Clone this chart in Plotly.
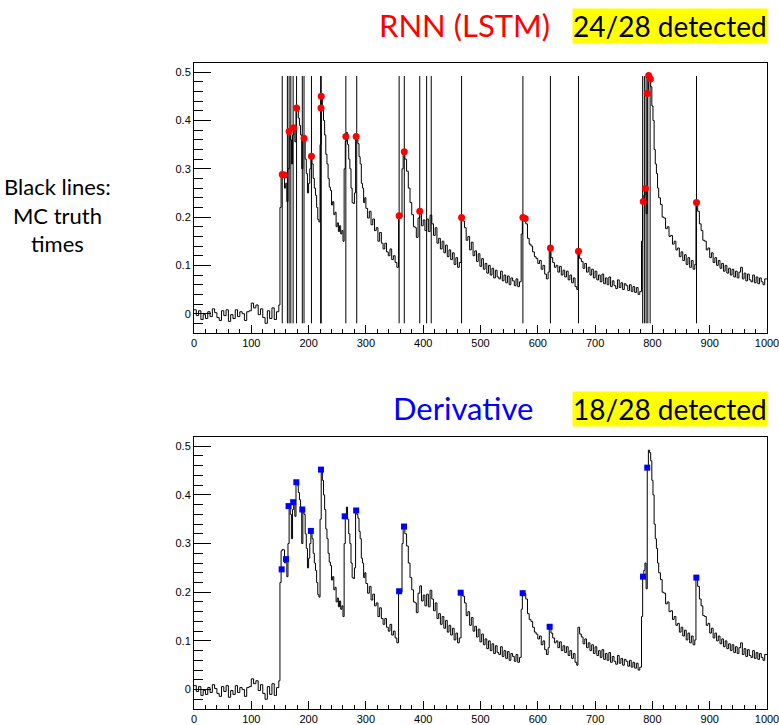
import plotly.graph_objects as go
from plotly.subplots import make_subplots

# ---------------- data ----------------
# waveform: time (start of each step) and amplitude
t = ([0, 4, 8, 12, 16, 20, 24, 28, 32, 36, 40, 44, 48, 52, 56, 60, 64, 68, 72, 76,
      80, 84, 88, 92, 96, 100, 104, 108, 112, 116, 120, 124, 128, 132, 136, 140, 144, 148]
     + list(range(150, 300, 2))
     + [300, 303, 306, 309, 312, 315, 318, 321, 324, 327, 330, 333, 336, 339, 342, 345, 348, 351, 354]
     + [357, 360, 363, 365, 368, 371, 374, 377]
     + [380, 383, 386, 388, 391, 394, 397, 400, 403, 406, 409, 412, 415, 418, 421, 424,
        427, 430, 433, 436, 439, 442, 445, 448, 451, 454, 457, 460, 463]
     + [466, 469, 472, 475, 478, 481, 484, 487, 490, 493, 496, 499, 502, 505, 508, 511,
        514, 517, 520, 523, 526, 529, 532, 535, 538, 541, 544, 547, 550, 553, 556, 559,
        562, 565, 568]
     + [571, 573, 576, 579, 582, 585, 588, 591, 594, 597, 600, 603, 606, 609, 612, 615, 618]
     + [620, 623, 626, 629, 632, 635, 638, 641, 644, 647, 650, 653, 656, 659, 662, 665, 668]
     + [670, 673, 676, 679, 682, 685, 688, 691, 694, 697, 700, 703, 706, 709, 712, 715,
        718, 721, 724, 727, 730, 733, 736, 739, 742, 745, 748, 751, 754, 757, 760, 763,
        766, 769, 772, 775, 778]
     + [781, 783, 785, 787, 789, 791, 793, 795, 797, 799, 801, 803, 805, 807, 809, 811]
     + [814, 817, 820, 823, 826, 829, 832, 835, 838, 841, 844, 847, 850, 853, 856, 859,
        862, 865, 868, 871, 874]
     + [876, 879, 882, 885, 888, 891, 894, 897, 900, 903, 906, 909, 912, 915, 918, 921,
        924, 927, 930, 933, 936, 939, 942, 945, 948, 951, 954, 957, 960, 963, 966, 969,
        972, 975, 978, 981, 984, 987, 990, 993, 996])

amp = ([0.008, -0.004, 0.006, -0.012, -0.002, -0.010, 0.004, -0.006, 0.010, 0.002,
        -0.008, -0.014, 0.006, -0.004, 0.008, -0.016, -0.002, -0.010, 0.008, -0.006,
        0.004, 0.000, -0.014, 0.004, 0.006, 0.022, 0.012, 0.018, -0.002, 0.010,
        -0.008, -0.020, 0.006, -0.010, 0.012, -0.012, 0.004, 0.018]
       + [0.220, 0.285, 0.288, 0.287, 0.260, 0.270, 0.232, 0.300, 0.377, 0.360,
          0.310, 0.370, 0.385, 0.356, 0.426, 0.420, 0.405, 0.390, 0.370, 0.300,
          0.365, 0.360, 0.320, 0.290, 0.250, 0.270, 0.300, 0.326, 0.310, 0.280,
          0.260, 0.245, 0.220, 0.195, 0.190, 0.350, 0.452, 0.430, 0.400, 0.370,
          0.330, 0.310, 0.280, 0.262, 0.255, 0.225, 0.232, 0.205, 0.210, 0.180,
          0.188, 0.170, 0.182, 0.165, 0.172, 0.150, 0.300, 0.357, 0.375, 0.350,
          0.320, 0.300, 0.260, 0.230, 0.228, 0.250, 0.368, 0.360, 0.352, 0.325,
          0.310, 0.270, 0.260, 0.230, 0.240]
       + [0.218, 0.198, 0.212, 0.184, 0.196, 0.172, 0.178, 0.150, 0.168, 0.146,
          0.134, 0.146, 0.128, 0.120, 0.134, 0.112, 0.120, 0.106, 0.096]
       + [0.202, 0.200, 0.300, 0.335, 0.320, 0.295, 0.260, 0.230]
       + [0.205, 0.180, 0.178, 0.158, 0.198, 0.213, 0.182, 0.194, 0.172, 0.196,
          0.170, 0.204, 0.186, 0.162, 0.178, 0.146, 0.156, 0.134, 0.150, 0.126,
          0.142, 0.118, 0.132, 0.112, 0.126, 0.102, 0.116, 0.096, 0.106]
       + [0.199, 0.192, 0.178, 0.152, 0.160, 0.132, 0.148, 0.120, 0.130, 0.108,
          0.124, 0.098, 0.114, 0.092, 0.104, 0.084, 0.100, 0.080, 0.094, 0.074,
          0.090, 0.076, 0.072, 0.088, 0.068, 0.080, 0.064, 0.078, 0.060, 0.074,
          0.068, 0.058, 0.072, 0.056, 0.066]
       + [0.165, 0.198, 0.197, 0.186, 0.156, 0.144, 0.140, 0.128, 0.118, 0.114,
          0.104, 0.110, 0.092, 0.100, 0.082, 0.072, 0.086]
       + [0.130, 0.116, 0.106, 0.096, 0.100, 0.086, 0.098, 0.080, 0.090, 0.076,
          0.088, 0.070, 0.080, 0.064, 0.074, 0.056, 0.050]
       + [0.128, 0.114, 0.108, 0.094, 0.104, 0.086, 0.096, 0.080, 0.092, 0.074,
          0.088, 0.070, 0.080, 0.066, 0.082, 0.062, 0.074, 0.060, 0.076, 0.056,
          0.068, 0.058, 0.052, 0.070, 0.054, 0.064, 0.050, 0.062, 0.058, 0.048,
          0.060, 0.046, 0.056, 0.044, 0.054, 0.040, 0.046]
       + [0.150, 0.233, 0.245, 0.260, 0.207, 0.456, 0.492, 0.487, 0.470, 0.430,
          0.400, 0.340, 0.310, 0.290, 0.260, 0.240]
       + [0.226, 0.200, 0.198, 0.176, 0.180, 0.160, 0.162, 0.144, 0.150, 0.132,
          0.136, 0.118, 0.128, 0.110, 0.122, 0.102, 0.116, 0.096, 0.110, 0.092, 0.102]
       + [0.230, 0.212, 0.186, 0.172, 0.152, 0.150, 0.132, 0.136, 0.116, 0.126,
          0.106, 0.116, 0.100, 0.110, 0.094, 0.104, 0.088, 0.100, 0.084, 0.094,
          0.080, 0.092, 0.076, 0.088, 0.074, 0.086, 0.096, 0.072, 0.084, 0.068,
          0.082, 0.070, 0.066, 0.080, 0.064, 0.076, 0.062, 0.074, 0.066, 0.060, 0.072])

# MC truth times (black lines)
truth_times = [154, 163, 166, 169, 173, 179, 189, 192, 205, 221, 222, 265, 284,
               358, 367, 394, 406, 414, 467, 574, 622, 671, 783, 786, 789, 792,
               796, 877]

# RNN (LSTM) detections
rnn_t = [154, 158, 166, 174, 179, 192, 205, 221.6, 222, 265, 283, 358, 367, 394,
         467, 574, 578, 622, 671, 784, 788, 791, 793.5, 796.5, 877]
rnn_a = [0.288, 0.287, 0.377, 0.385, 0.426, 0.363, 0.326, 0.426, 0.450, 0.367,
         0.367, 0.203, 0.335, 0.212, 0.199, 0.199, 0.197, 0.136, 0.129, 0.232,
         0.259, 0.456, 0.493, 0.486, 0.230]

# Derivative detections
der_t = [153, 160.6, 165, 173, 178.6, 189, 204, 221.6, 263, 283, 358, 366.5,
         465.4, 573.6, 620.7, 783.6, 791, 876.7]
der_a = [0.247, 0.268, 0.377, 0.385, 0.426, 0.370, 0.326, 0.452, 0.356, 0.368,
         0.202, 0.335, 0.199, 0.198, 0.129, 0.232, 0.456, 0.230]

x_ticks = [0, 100, 200, 300, 400, 500, 600, 700, 800, 900, 1000]
y_ticks = [0, 0.1, 0.2, 0.3, 0.4, 0.5]
y_tick_text = ["0", "0.1", "0.2", "0.3", "0.4", "0.5"]

# ---------------- figure ----------------
W, H = 779, 725
fig = make_subplots(rows=2, cols=1)

n = min(len(t), len(amp))
t_step = t[:n] + [1000]
a_step = amp[:n] + [amp[n - 1]]
lo, hi = min(amp), max(amp)

lx, ly = [], []
for tt in truth_times:
    lx += [tt, tt, None]
    ly += [lo, hi, None]

for row in (1, 2):
    fig.add_trace(go.Scatter(x=t_step, y=a_step, mode="lines", line_shape="hv",
                             line=dict(color="black", width=1), showlegend=False),
                  row=row, col=1)

fig.add_trace(go.Scatter(x=lx, y=ly, mode="lines", line=dict(color="black", width=1),
                         showlegend=False), row=1, col=1)
fig.add_trace(go.Scatter(x=rnn_t, y=rnn_a, mode="markers",
                         marker=dict(color="#ff0000", size=7, symbol="circle"),
                         showlegend=False), row=1, col=1)
fig.add_trace(go.Scatter(x=der_t, y=der_a, mode="markers",
                         marker=dict(color="#0000ff", size=6, symbol="square"),
                         showlegend=False), row=2, col=1)


def px_dom_x(a, b):
    return [a / W, b / W]


def px_dom_y(top, bottom):
    return [1 - bottom / H, 1 - top / H]


tickfont = dict(family="Liberation Sans, Arial, sans-serif", size=11, color="black")
xcommon = dict(range=[0, 1000], tickvals=x_ticks, ticks="inside", ticklen=8,
               tickcolor="black", showline=True, linecolor="black", linewidth=1,
               mirror=True, showgrid=False, zeroline=False, tickfont=tickfont,
               ticklabeloverflow="allow", automargin=False,
               minor=dict(ticks="inside", ticklen=4, dtick=20, tickcolor="black",
                          showgrid=False))
ycommon = dict(range=[-0.04, 0.519], tickvals=y_ticks, ticktext=y_tick_text,
               ticks="inside", ticklen=17, tickcolor="black", automargin=False,
               showline=True, linecolor="black", linewidth=1, mirror=True,
               showgrid=False, zeroline=False, tickfont=tickfont,
               minor=dict(ticks="inside", ticklen=9, dtick=0.02, tick0=0,
                          tickcolor="black", showgrid=False))

fig.update_layout(
    width=W, height=H, margin=dict(l=0, r=0, t=0, b=0, autoexpand=False),
    paper_bgcolor="white", plot_bgcolor="white", showlegend=False,
    xaxis=dict(domain=px_dom_x(194, 767), **xcommon),
    xaxis2=dict(domain=px_dom_x(194, 767), **xcommon),
    yaxis=dict(domain=px_dom_y(63, 333), **ycommon),
    yaxis2=dict(domain=px_dom_y(437, 709), **ycommon),
)

tfont = "Lato, Noto Sans, sans-serif"
ann = [
    dict(text="RNN (LSTM)", x=464 / W, y=1 - 25 / H, font=dict(family=tfont, size=31, color="#ff0000")),
    dict(text="24/28 detected", x=670 / W, y=1 - 26 / H, bgcolor="#ffff00", borderpad=0,
         font=dict(family=tfont, size=28, color="black")),
    dict(text="Derivative", x=463 / W, y=1 - 408 / H, font=dict(family=tfont, size=31, color="#0000ff")),
    dict(text="18/28 detected", x=670 / W, y=1 - 409 / H, bgcolor="#ffff00", borderpad=0,
         font=dict(family=tfont, size=28, color="black")),
    dict(text="Black lines:<br>MC truth<br>times", x=57 / W, y=1 - 215 / H, align="center",
         font=dict(family=tfont, size=22, color="black")),
]
for a in ann:
    fig.add_annotation(xref="paper", yref="paper", xanchor="center", yanchor="middle",
                       showarrow=False, **a)

fig.write_html("out.html")
